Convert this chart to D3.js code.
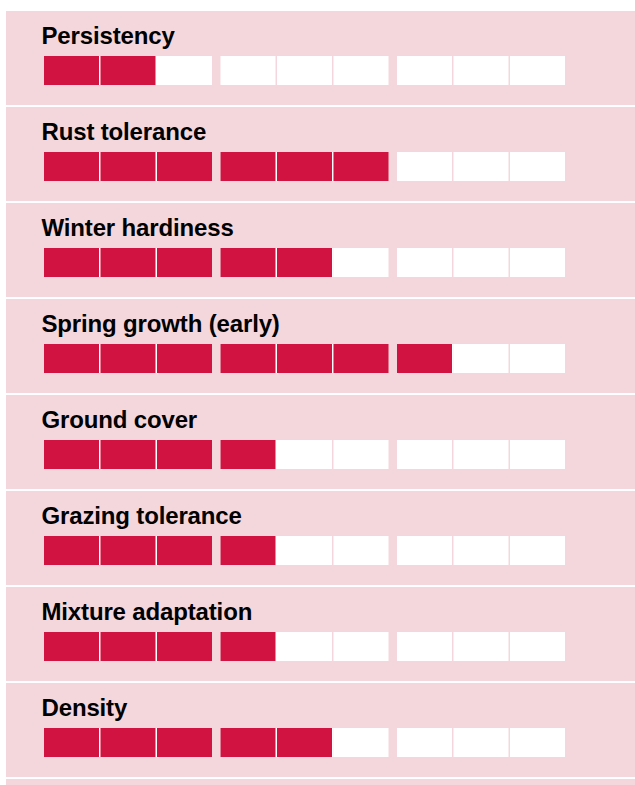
<!DOCTYPE html>
<html>
<head>
<meta charset="utf-8">
<script src="https://cdn.jsdelivr.net/npm/d3@7"></script>
<style>
  html, body { margin: 0; padding: 0; background: #ffffff; }
  svg { display: block; }
</style>
</head>
<body>
<script>
const categories = ["Persistency", "Rust tolerance", "Winter hardiness", "Spring growth (early)",
                    "Ground cover", "Grazing tolerance", "Mixture adaptation", "Density"];
const ratings = [2, 6, 5, 7, 4, 4, 4, 5];
const maxRating = 9;
const groupCount = 3;
const cellsPerGroup = 3;

const W = 635, H = 785;
const pink = "#f4d7dc", red = "#d01340";

const svg = d3.select("body").append("svg").attr("width", W).attr("height", H);

const rows = categories.map((c, i) => ({ name: c, value: ratings[i] }));

const y = d3.scaleBand().domain(categories).range([10, 778]).paddingInner(2 / 96).paddingOuter(1 / 96);
const gx = d3.scaleBand().domain(d3.range(groupCount)).range([44, 565]).paddingInner(8.5 / 176.5).paddingOuter(0);
const cx = d3.scaleBand().domain(d3.range(cellsPerGroup)).range([0, gx.bandwidth()]).paddingInner(3 / 113).paddingOuter(0);

const cellX = k => gx(Math.floor(k / cellsPerGroup)) + cx(k % cellsPerGroup);

// continuation strip of the next panel at the bottom
svg.append("rect")
  .attr("x", 6).attr("y", y(categories[categories.length - 1]) + y.step())
  .attr("width", W - 6).attr("height", y.bandwidth())
  .attr("fill", pink);

const row = svg.selectAll("g.row").data(rows).join("g")
  .attr("class", "row")
  .attr("transform", d => `translate(0,${y(d.name)})`);

row.append("rect")
  .attr("x", 6).attr("y", 0)
  .attr("width", W - 6).attr("height", y.bandwidth())
  .attr("fill", pink);

row.append("text")
  .attr("x", 41.5).attr("y", 33)
  .attr("font-family", "'Liberation Sans', Arial, Helvetica, sans-serif")
  .attr("font-weight", "bold")
  .attr("font-size", 24)
  .attr("letter-spacing", "-0.15px")
  .attr("fill", "#000")
  .text(d => d.name);

// white underlay so gaps between filled cells read white
row.selectAll("rect.under").data(d => d3.range(maxRating).map(k => ({ k, on: k < d.value }))).join("rect")
  .attr("class", "under")
  .filter(c => c.on && (c.k % cellsPerGroup) !== cellsPerGroup - 1)
  .attr("x", c => cellX(c.k))
  .attr("y", 45)
  .attr("width", cx.step())
  .attr("height", 29)
  .attr("fill", "#ffffff");

row.selectAll("rect.cell").data(d => d3.range(maxRating).map(k => ({ k, on: k < d.value }))).join("rect")
  .attr("class", "cell")
  .attr("x", c => cellX(c.k))
  .attr("y", 45)
  .attr("width", cx.bandwidth())
  .attr("height", 29)
  .attr("fill", c => c.on ? red : "#ffffff");
</script>
</body>
</html>
